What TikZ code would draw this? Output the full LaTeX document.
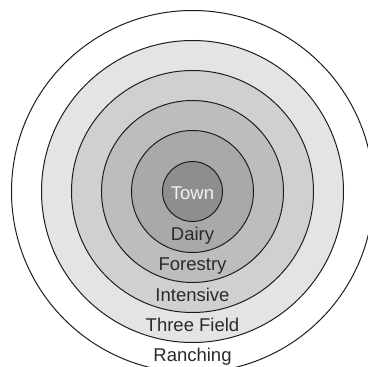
\documentclass[tikz,border=0pt]{standalone}
\usepackage{fontspec}
\setmainfont{Liberation Sans}
\usepackage{xcolor}
\usepackage{tikz}
\usetikzlibrary{positioning}
\definecolor{ringa}{HTML}{FFFFFF}
\definecolor{ringb}{HTML}{E4E4E4}
\definecolor{ringc}{HTML}{D0D0D0}
\definecolor{ringd}{HTML}{BDBDBD}
\definecolor{ringe}{HTML}{A9A9A9}
\definecolor{ringf}{HTML}{8E8E8E}
\definecolor{ringline}{HTML}{1E1E1E}
\definecolor{labelgray}{HTML}{2A2A2A}
\definecolor{towntext}{HTML}{F2F2F2}
\tikzset{
  ring/.style={draw=ringline,line width=1pt},
  zone/.style={font=\fontsize{18.5}{20}\selectfont,text=labelgray,inner sep=0pt,anchor=base}
}

\begin{document}
\begin{tikzpicture}[x=1pt,y=1pt]
\useasboundingbox (-192.5,-175.5) rectangle (174.5,191.5);
\foreach \rr/\cc in {181/ringa,151/ringb,121/ringc,91/ringd,61/ringe,30/ringf}{\draw[ring,fill=\cc] (0,0) circle (\rr pt);}
\node[zone,text=towntext] (town) at (0,-8) {Town};
\node[zone] (dairy) at (0,-49) {Dairy};
\node[zone] (forestry) at (0,-79) {Forestry};
\node[zone] (intensive) at (0,-110) {Intensive};
\node[zone] (threefield) at (0,-140) {Three Field};
\node[zone] (ranching) at (0,-170) {Ranching};
\end{tikzpicture}
\end{document}
